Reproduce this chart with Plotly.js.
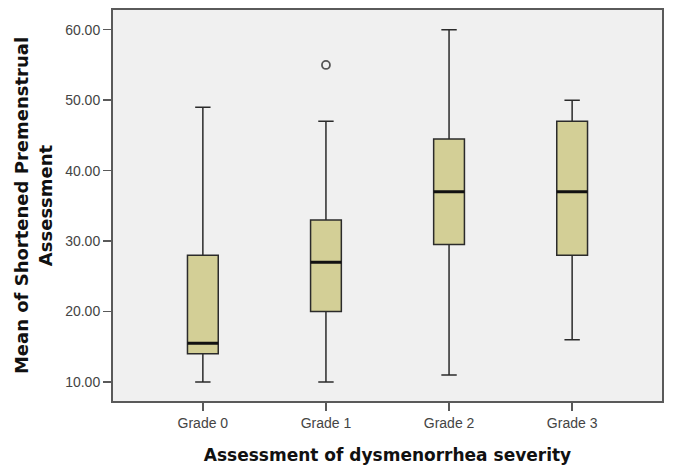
<!DOCTYPE html>
<html>
<head>
<meta charset="utf-8">
<script src="https://cdn.plot.ly/plotly-3.0.1.min.js"></script>
<style>html,body{margin:0;padding:0;background:#fff;}#chart{width:674px;height:468px;}</style>
</head>
<body>
<div id="chart"></div>
<script>
const categories = ['Grade 0', 'Grade 1', 'Grade 2', 'Grade 3'];
const lowerWhisker = [10, 10, 11, 16];
const q1Values = [14, 20, 29.5, 28];
const medianValues = [15.5, 27, 37, 37];
const q3Values = [28, 33, 44.5, 47];
const upperWhisker = [49, 47, 60, 50];
const outlierCategories = ['Grade 1'];
const outlierValues = [55];
const yTickValues = [10, 20, 30, 40, 50, 60];
const yTickLabels = ['10.00', '20.00', '30.00', '40.00', '50.00', '60.00'];

const boxTrace = {
  type: 'box',
  x: categories,
  q1: q1Values,
  median: medianValues,
  q3: q3Values,
  lowerfence: lowerWhisker,
  upperfence: upperWhisker,
  width: 0.25,
  whiskerwidth: 0.5,
  fillcolor: '#d3cf96',
  line: {color: '#2b2b2b', width: 1.5},
  boxpoints: false,
  hoverinfo: 'skip',
  showlegend: false
};

const medianTrace = {
  type: 'box',
  x: categories,
  q1: medianValues,
  median: medianValues,
  q3: medianValues,
  lowerfence: medianValues,
  upperfence: medianValues,
  width: 0.25,
  whiskerwidth: 0,
  fillcolor: 'rgba(0,0,0,0)',
  line: {color: '#111111', width: 3},
  boxpoints: false,
  hoverinfo: 'skip',
  showlegend: false
};

const outlierTrace = {
  type: 'scatter',
  mode: 'markers',
  x: outlierCategories,
  y: outlierValues,
  marker: {symbol: 'circle-open', size: 8, color: '#555555', line: {width: 1.8, color: '#555555'}},
  hoverinfo: 'skip',
  showlegend: false
};

const layout = {
  width: 674,
  height: 468,
  margin: {l: 113, r: 12, t: 10, b: 67},
  paper_bgcolor: '#ffffff',
  plot_bgcolor: '#f0f0f0',
  showlegend: false,
  boxmode: 'overlay',
  xaxis: {
    type: 'category',
    range: [-0.73, 3.73],
    showgrid: false,
    zeroline: false,
    showline: true,
    mirror: true,
    linecolor: '#5a5a5a',
    linewidth: 2,
    ticks: 'outside',
    ticklen: 8,
    tickwidth: 1.5,
    tickcolor: '#5a5a5a',
    tickfont: {family: 'Liberation Sans, Arial, sans-serif', size: 14, color: '#444444'},
    title: {text: 'Assessment of dysmenorrhea severity', font: {family: 'DejaVu Sans, Verdana, sans-serif', size: 17, color: '#111111', weight: 'bold'}, standoff: 19}
  },
  yaxis: {
    range: [7.3, 62.8],
    showgrid: false,
    zeroline: false,
    showline: true,
    mirror: true,
    linecolor: '#5a5a5a',
    linewidth: 2,
    ticks: 'outside',
    ticklen: 8,
    tickwidth: 1.5,
    tickcolor: '#5a5a5a',
    tickvals: yTickValues,
    ticktext: yTickLabels,
    tickfont: {family: 'Liberation Sans, Arial, sans-serif', size: 14, color: '#444444'},
    title: {text: 'Mean of Shortened Premenstrual<br>Assessment', font: {family: 'DejaVu Sans, Verdana, sans-serif', size: 18, color: '#111111', weight: 'bold'}, standoff: 8}
  }
};

Plotly.newPlot('chart', [boxTrace, medianTrace, outlierTrace], layout, {displayModeBar: false, staticPlot: true});
</script>
</body>
</html>
